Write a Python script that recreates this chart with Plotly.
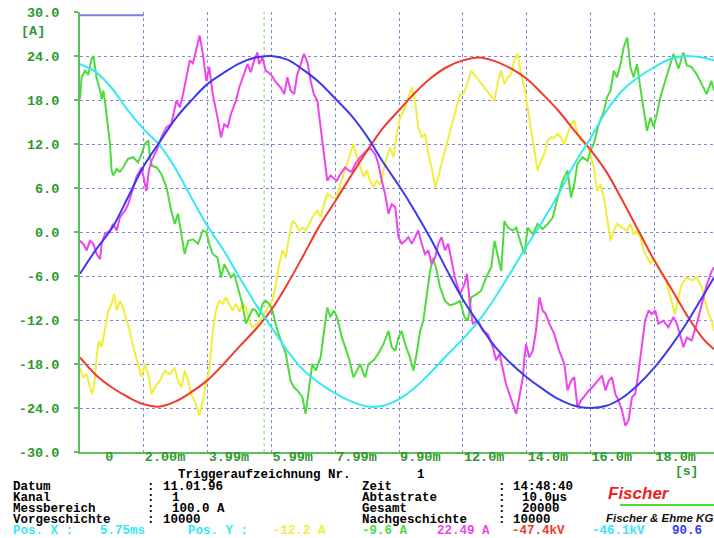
import plotly.graph_objects as go

# ---------------- data (ms, A) ----------------
t_ref = [0.0, 0.5, 1.0, 1.5, 2.0, 2.5, 3.0, 3.5, 4.0, 4.5, 5.0, 5.5, 6.0, 6.5, 7.0, 7.5,
         8.0, 8.5, 9.0, 9.5, 10.0, 10.5, 11.0, 11.5, 12.0, 12.5, 13.0, 13.5, 14.0, 14.5,
         15.0, 15.5, 16.0, 16.5, 17.0, 17.5, 18.0, 18.5, 19.0, 19.5, 19.87]
blue_v = [-5.7, -2.4, 0.5, 4.7, 9.0, 12.3, 15.5, 18.0, 20.2, 21.7, 23.0, 23.8, 24.0, 23.5,
          22.1, 20.4, 18.2, 15.9, 13.0, 9.5, 6.3, 2.8, -1.0, -5.2, -9.2, -12.5, -15.6, -17.9,
          -19.8, -21.4, -22.8, -23.7, -24.0, -23.7, -22.6, -20.8, -18.5, -15.7, -12.5, -8.9, -6.2]
red_v = [-17.1, -19.5, -21.2, -22.5, -23.5, -23.8, -23.1, -21.8, -20.2, -18.0, -15.6, -13.3,
         -10.6, -7.1, -3.2, 0.8, 4.2, 7.7, 11.1, 14.2, 16.6, 19.0, 21.0, 22.5, 23.4, 23.8, 23.3,
         22.3, 20.9, 18.8, 16.5, 13.8, 11.2, 8.2, 4.3, 0.2, -3.9, -7.5, -11.2, -14.4, -16.0]
cyan_v = [22.9, 21.8, 19.6, 16.6, 14.0, 11.8, 8.6, 4.6, 0.8, -2.5, -6.2, -9.8, -13.0, -16.2,
          -18.8, -20.6, -22.0, -23.1, -23.8, -23.7, -22.8, -21.2, -19.1, -16.8, -14.6, -12.1,
          -9.0, -5.5, -1.9, 1.5, 5.2, 9.3, 12.8, 16.5, 19.3, 21.1, 22.5, 23.6, 24.0, 23.8, 23.4]

green_t = [0.00, 0.05, 0.16, 0.26, 0.36, 0.42, 0.52, 0.63, 0.68, 0.73, 0.78, 0.89, 0.94, 0.99, 1.04,
           1.15, 1.25, 1.35, 1.51, 1.67, 1.82, 1.93, 2.03, 2.14, 2.19, 2.26, 2.40, 2.55, 2.71, 2.86,
           2.97, 3.07, 3.18, 3.28, 3.39, 3.54, 3.70, 3.85, 3.96,
           4.05, 4.16, 4.31, 4.42, 4.52, 4.63, 4.73, 4.83, 4.94, 5.09, 5.20, 5.30, 5.41, 5.51, 5.61,
           5.72, 5.82, 5.93, 6.03, 6.19, 6.34, 6.45, 6.60, 6.71, 6.81, 6.97, 7.07, 7.18, 7.28, 7.39,
           7.54, 7.65, 7.75, 7.85, 7.96,
           8.05, 8.21, 8.42, 8.57, 8.68, 8.78, 8.89, 8.94, 9.04, 9.20, 9.35, 9.51, 9.67, 9.77, 9.88,
           9.98, 10.08, 10.19, 10.34, 10.45, 10.55, 10.66, 10.76, 10.86, 10.97, 11.07, 11.18, 11.28,
           11.44, 11.59, 11.75, 11.91,
           12.05, 12.16, 12.26, 12.42, 12.57, 12.73, 12.89, 12.99, 13.10, 13.20, 13.30, 13.41, 13.56,
           13.67, 13.82, 13.93, 14.03, 14.19, 14.34, 14.50, 14.66, 14.82, 14.97, 15.13, 15.28, 15.39,
           15.49, 15.59, 15.75, 15.91,
           16.00, 16.10, 16.26, 16.42, 16.52, 16.63, 16.73, 16.83, 16.94, 17.04, 17.15, 17.25, 17.35,
           17.46, 17.56, 17.67, 17.77, 17.88, 17.98, 18.08, 18.19, 18.34, 18.50, 18.60, 18.76, 18.91,
           19.02, 19.17, 19.33, 19.48, 19.64, 19.79, 19.87]
green_v = [18.1, 21.1, 22.0, 21.4, 23.6, 24.0, 21.0, 19.3, 18.1, 19.3, 17.9, 13.4, 12.0, 8.4, 7.7,
           8.6, 8.2, 8.8, 10.0, 10.2, 9.5, 10.6, 12.0, 12.5, 10.2, 9.0, 8.8, 7.9, 6.1, 2.9,
           1.1, 2.5, -0.3, -3.0, -1.2, -1.0, -1.6, 0.2, 0.0,
           -1.6, -3.0, -3.5, -6.2, -4.4, -5.3, -6.2, -5.7, -7.5, -9.8, -12.5, -11.6, -10.5, -10.7, -11.6,
           -9.8, -9.4, -9.8, -10.7, -13.5, -15.3, -16.6, -20.3, -21.2, -21.6, -22.5, -24.8, -21.6, -18.0,
           -18.9, -17.1, -13.5, -10.3, -11.6, -10.7,
           -11.6, -14.4, -17.1, -19.8, -18.9, -18.0, -19.4, -19.8, -18.0, -17.5, -16.6, -15.3, -13.5,
           -15.7, -16.2, -14.4, -13.5, -15.3, -17.1, -18.9, -16.6, -13.5, -12.1, -8.5, -5.3, -3.5, -5.3,
           -7.5, -9.4, -10.0, -9.8, -9.4,
           -11.6, -12.1, -8.9, -8.5, -8.0, -6.2, -4.8, -1.2, -3.5, -5.3, 1.5, 0.6, 0.2, 0.6, -1.6, -3.0,
           0.6, -0.3, 1.1, 0.4, 1.1, 2.0, 4.7, 7.0, 8.4, 4.7, 6.5, 9.3, 10.2, 9.7,
           11.1, 12.0, 14.7, 16.5, 18.4, 19.3, 22.0, 21.1, 22.9, 25.2, 26.5, 22.5, 21.1, 22.9, 19.7,
           16.5, 13.8, 15.6, 14.3, 16.1, 18.4, 20.6, 22.9, 24.3, 22.3, 24.5, 22.7, 22.5, 21.5, 20.2,
           18.8, 20.6, 19.3]

magenta_t = [0.00, 0.10, 0.21, 0.31, 0.42, 0.52, 0.63, 0.68, 0.78, 0.94, 1.04, 1.15, 1.25, 1.41, 1.51,
             1.61, 1.77, 1.93, 2.08, 2.16, 2.24, 2.40, 2.55, 2.71, 2.86, 3.02, 3.13, 3.23, 3.33, 3.44,
             3.54, 3.65, 3.75, 3.85, 3.96,
             4.05, 4.16, 4.31, 4.42, 4.52, 4.63, 4.73, 4.89, 4.99, 5.15, 5.25, 5.35, 5.46, 5.56, 5.61,
             5.72, 5.82, 5.98, 6.14, 6.29, 6.40, 6.50, 6.60, 6.71, 6.81, 6.92, 7.02, 7.13, 7.23, 7.33,
             7.44, 7.54, 7.65, 7.75, 7.85, 7.96,
             8.05, 8.16, 8.31, 8.42, 8.52, 8.63, 8.78, 8.94, 9.09, 9.25, 9.35, 9.46, 9.56, 9.67, 9.77,
             9.88, 9.98, 10.08, 10.19, 10.29, 10.40, 10.50, 10.60, 10.71, 10.81, 10.92, 11.02, 11.13,
             11.23, 11.33, 11.44, 11.54, 11.65, 11.75, 11.91,
             12.05, 12.13, 12.21, 12.31, 12.47, 12.63, 12.78, 12.94, 13.04, 13.15, 13.25, 13.35, 13.46,
             13.56, 13.67, 13.77, 13.88, 13.93, 13.98, 14.08, 14.19, 14.29, 14.40, 14.50, 14.60, 14.71,
             14.86, 15.02, 15.18, 15.28, 15.39, 15.49, 15.59, 15.70, 15.85, 15.95,
             16.05, 16.21, 16.36, 16.47, 16.57, 16.67, 16.78, 16.88, 16.99, 17.09, 17.19, 17.30, 17.40,
             17.51, 17.61, 17.71, 17.82, 17.92, 18.03, 18.13, 18.28, 18.44, 18.60, 18.70, 18.80, 18.91,
             19.02, 19.17, 19.33, 19.49, 19.65, 19.80, 19.87]
magenta_v = [-1.2, -1.6, -2.5, -1.2, -1.6, -3.0, -3.7, -1.6, -0.3, 0.2, 1.1, 0.2, 2.0, 2.9, 3.8,
             5.2, 7.5, 8.8, 5.6, 8.4, 9.7, 11.1, 12.9, 14.3, 14.7, 17.9, 17.0, 18.8, 21.1, 23.4,
             23.0, 25.2, 26.8, 24.3, 20.6,
             22.5, 18.8, 15.6, 12.9, 14.7, 14.3, 16.1, 17.9, 19.7, 21.8, 22.9, 21.8, 23.4, 24.5, 22.9,
             23.8, 22.0, 21.5, 20.4, 19.7, 18.8, 21.1, 19.3, 18.8, 21.5, 22.9, 24.3, 23.1, 20.6, 18.8,
             17.9, 14.3, 10.2, 7.0, 7.7, 7.3,
             7.0, 7.9, 8.8, 8.4, 8.2, 9.3, 10.2, 10.9, 11.5, 10.6, 9.3, 7.0, 5.2, 2.5, 3.8,
             3.4, -0.7, -1.6, -1.2, -0.7, -1.6, -0.7, 0.2, -1.6, -3.0, -2.5, -4.4, -3.5,
             -1.6, -0.7, -2.5, -1.6, -3.9, -6.2, -8.5,
             -7.1, -5.7, -9.4, -12.5, -12.1, -13.5, -13.9, -15.7, -17.5, -16.6, -18.9, -20.7, -22.1,
             -23.5, -24.8, -22.5, -19.8, -17.1, -15.3, -17.1, -16.2, -13.5, -8.9, -10.7, -11.2, -12.5,
             -13.9, -16.2, -18.0, -21.6, -20.3, -19.8, -23.9, -23.0, -22.1, -21.6,
             -21.2, -20.3, -19.6, -21.6, -20.3, -19.8, -22.1, -23.0, -24.4, -26.4, -25.7, -22.5, -22.1,
             -18.9, -15.3, -12.1, -10.7, -11.2, -10.7, -12.5, -12.1, -13.0, -11.6, -12.5, -13.9, -15.7,
             -14.4, -14.8, -12.5, -9.8, -7.1, -5.3, -4.8]

yellow_t = [0.00, 0.10, 0.21, 0.31, 0.39, 0.47, 0.52, 0.59, 0.68, 0.78, 0.89, 0.99, 1.07, 1.15, 1.25,
            1.35, 1.46, 1.56, 1.67, 1.82, 1.93, 2.03, 2.14, 2.24, 2.34, 2.50, 2.66, 2.81, 2.97, 3.07,
            3.18, 3.28, 3.39, 3.49, 3.59, 3.75, 3.85, 3.96,
            4.05, 4.16, 4.26, 4.36, 4.47, 4.57, 4.68, 4.78, 4.89, 4.99, 5.10, 5.20, 5.30, 5.41, 5.56,
            5.72, 5.88, 6.03, 6.14, 6.24, 6.35, 6.45, 6.55, 6.66, 6.76, 6.87, 6.97, 7.07, 7.18, 7.28,
            7.44, 7.54, 7.65, 7.75, 7.91,
            8.05, 8.16, 8.26, 8.36, 8.47, 8.57, 8.68, 8.78, 8.89, 8.99, 9.09, 9.20, 9.30, 9.41, 9.51,
            9.61, 9.72, 9.82, 9.93, 10.03, 10.14, 10.29, 10.40, 10.50, 10.60, 10.71, 10.81, 10.92,
            11.02, 11.13, 11.23, 11.33, 11.44, 11.54, 11.65, 11.75, 11.91, 12.01,
            12.10, 12.26, 12.42, 12.57, 12.73, 12.89, 12.99, 13.10, 13.20, 13.30, 13.41, 13.51, 13.61,
            13.72, 13.82, 13.93, 14.03, 14.14, 14.24, 14.34, 14.45, 14.55, 14.66, 14.76, 14.86, 14.97,
            15.07, 15.18, 15.28, 15.39, 15.49, 15.59, 15.70, 15.85, 15.97,
            16.10, 16.21, 16.31, 16.42, 16.52, 16.63, 16.73, 16.83, 16.99, 17.15, 17.25, 17.35, 17.46,
            17.56, 17.67, 17.77, 17.88, 17.98, 18.08, 18.19, 18.34, 18.45, 18.55, 18.65, 18.76, 18.86,
            19.02, 19.18, 19.33, 19.49, 19.59, 19.70, 19.80, 19.87]
yellow_v = [-18.5, -19.8, -19.4, -21.2, -22.1, -19.8, -17.1, -14.8, -15.7, -13.5, -10.7, -9.8, -8.5,
            -10.7, -9.4, -10.3, -12.1, -13.5, -15.7, -18.0, -19.8, -18.0, -19.4, -22.1, -21.2, -20.3,
            -18.9, -19.4, -18.5, -20.3, -21.2, -18.9, -20.3, -22.1, -23.0, -25.0, -23.0, -20.3,
            -18.9, -13.5, -10.7, -9.4, -9.8, -8.9, -9.8, -10.7, -9.8, -10.9, -9.8, -10.3, -12.1, -13.0,
            -12.5, -11.6, -10.3, -9.4, -7.1, -4.4, -2.5, -3.5, -0.7, 1.5, 1.1, 0.2, 0.6, 0.2, 1.1, 2.0,
            2.9, 2.0, 3.8, 5.2, 4.7,
            4.7, 6.5, 7.9, 9.3, 10.6, 12.0, 10.2, 8.8, 7.5, 8.4, 7.0, 6.1, 7.0, 6.5, 8.4, 10.2, 11.5,
            10.2, 13.4, 15.6, 16.5, 18.4, 19.7, 17.9, 14.3, 12.9, 13.4, 10.6, 8.8, 6.1, 7.5, 9.3, 11.1,
            12.9, 14.7, 16.5, 18.8, 18.8,
            19.7, 22.0, 21.1, 20.2, 19.3, 18.4, 17.9, 20.6, 22.0, 20.2, 21.1, 21.5, 23.4, 24.3, 21.5,
            19.7, 17.0, 14.3, 11.1, 8.4, 9.7, 10.6, 12.5, 12.9, 12.9, 13.4, 12.9, 12.0, 13.4, 14.7,
            15.2, 13.4, 12.5, 12.0, 11.1,
            8.8, 5.6, 6.5, 4.7, 2.0, -1.2, 0.2, 1.1, 0.6, 0.2, 1.1, -0.3, 0.2, -0.7, -2.5, -3.5, -4.4,
            -3.5, -4.4, -5.3, -6.2, -8.0, -9.8, -11.2, -8.9, -7.1, -6.2, -6.6, -6.2, -7.5, -9.4, -11.2,
            -12.1, -13.5]

x_tickvals = [0, 2, 4, 6, 8, 10, 12, 14, 16, 18]
x_ticktext = ["\u00a0\u00a0\u00a00", "2.00m", "3.99m", "5.99m", "7.99m", "9.90m",
              "12.0m", "14.0m", "16.0m", "18.0m"]
y_tickvals = [-30, -24, -18, -12, -6, 0, 6, 12, 18, 24, 30]
y_ticktext = ["-30.0", "-24.0", "-18.0", "-12.0", "-6.0", "0.0", "6.0", "12.0", "18.0", "24.0", "30.0"]
cursor_t = 5.77

# ---------------- styling ----------------
W, H = 714, 538
ML, MR, MT, MB = 80, 0, 12, 86
PW, PH = W - ML - MR, H - MT - MB
MONO = "Liberation Mono"
C_BLUE, C_RED, C_CYAN = "#3a3aee", "#f23a2a", "#35e8f5"
C_GREEN, C_MAG, C_YEL = "#4cdc3c", "#ee44ee", "#f0ee3a"
GRID = "#8585da"
AXG = "#5cbf5c"
LBLG = "#2f982f"
FS = 12.5

fig = go.Figure()
for t, v, c, shape in [(yellow_t, yellow_v, C_YEL, "linear"),
                       (green_t, green_v, C_GREEN, "linear"),
                       (magenta_t, magenta_v, C_MAG, "linear"),
                       (t_ref, red_v, C_RED, "spline"),
                       (t_ref, cyan_v, C_CYAN, "spline"),
                       (t_ref, blue_v, C_BLUE, "spline")]:
    fig.add_trace(go.Scatter(x=t, y=v, mode="lines", line=dict(color=c, width=2, shape=shape),
                             hoverinfo="skip", showlegend=False))


def P(px, py):
    return (px - ML - 2) / PW, (H - MB - py) / PH


ann = []


def txt(s, px, py, color="#000000", size=FS, family=MONO, weight="bold", style="normal"):
    x, y = P(px, py)
    ann.append(dict(text=s, x=x, y=y, xref="paper", yref="paper", xanchor="left", yanchor="middle",
                    showarrow=False, font=dict(family=family, size=size, color=color,
                                               weight=weight, style=style)))


txt("[A]", 21, 32, LBLG, size=13.5)
txt("[s]", 675, 471, LBLG, size=13)
txt("Triggeraufzeichnung Nr.", 178, 475)
txt("1", 417, 475)
rows = [(487, "Datum", "11.01.96", 163, "Zeit", "14:48:40", 513),
        (498, "Kanal", "1", 172, "Abtastrate", "10.0µs", 522),
        (509, "Messbereich", "100.0 A", 172, "Gesamt", "20000", 522),
        (520, "Vorgeschichte", "10000", 163, "Nachgeschichte", "10000", 513)]
for py, l1, v1, x1, l2, v2, x2 in rows:
    txt(l1, 13, py)
    txt(":", 147, py)
    txt(v1, x1, py)
    txt(l2, 362, py)
    txt(":", 498, py)
    txt(v2, x2, py)
for px, s, c in [(13, "Pos. X :", C_CYAN), (100, "5.75ms", C_CYAN), (188, "Pos. Y :", C_CYAN),
                 (273, "-12.2 A", C_YEL), (362, "-9.6 A", C_GREEN), (437, "22.49 A", C_MAG),
                 (512, "-47.4kV", C_RED), (592, "-46.1kV", C_CYAN), (672, "90.6", C_BLUE)]:
    txt(s, px, 531, c)
txt("Fischer", 608, 493, "#ee2222", size=17, family="Liberation Sans", weight="bold", style="italic")
txt("Fischer &amp; Ehme KG", 606, 518, "#111111", size=11.5, family="Liberation Sans",
    weight="bold", style="italic")

gx0, gy = P(622, 505)
gx1, _ = P(716, 505)
shapes = [
    dict(type="line", xref="x", yref="y", x0=0, x1=2, y0=29.55, y1=29.55,
         line=dict(color="#7c7cea", width=2)),
    dict(type="line", xref="x", yref="y", x0=cursor_t, x1=cursor_t, y0=-30, y1=30,
         line=dict(color="#74cf74", width=1, dash="dot"), layer="below"),
    dict(type="line", xref="paper", yref="paper", x0=gx0, x1=gx1, y0=gy, y1=gy,
         line=dict(color=C_GREEN, width=2)),
]

fig.update_layout(
    width=W, height=H, autosize=False,
    margin=dict(l=ML, r=MR, t=MT, b=MB, pad=0),
    paper_bgcolor="white", plot_bgcolor="white",
    showlegend=False, annotations=ann, shapes=shapes,
    xaxis=dict(range=[0, 19.87], tickvals=x_tickvals, ticktext=x_ticktext,
               ticklabelposition="outside right", ticks="", showline=True, linecolor=AXG,
               linewidth=2, showgrid=True, gridcolor=GRID, gridwidth=1, griddash="dot",
               zeroline=False, tickfont=dict(family=MONO, size=13.5, color=LBLG, weight="bold"),
               ticklabelstandoff=-9, fixedrange=True),
    yaxis=dict(range=[-30, 30], tickvals=y_tickvals, ticktext=y_ticktext, ticks="outside",
               ticklen=4, tickcolor=AXG, tickwidth=2, showline=True, linecolor=AXG, linewidth=2,
               showgrid=True, gridcolor=GRID, gridwidth=1, griddash="dot", zeroline=False,
               tickfont=dict(family=MONO, size=13.5, color=LBLG, weight="bold"),
               ticklabelstandoff=12, fixedrange=True),
)

fig.write_html("out.html")
